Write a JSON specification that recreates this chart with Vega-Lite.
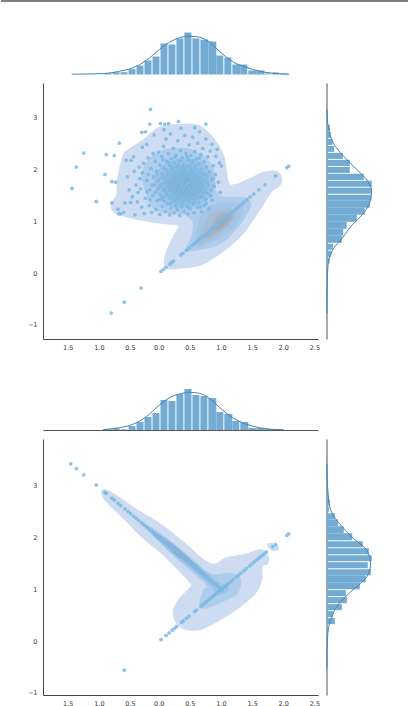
{"$schema":"https://vega.github.io/schema/vega-lite/v6.json","padding":0,"background":"white","bounds":"flush","spacing":8.5,"columns":2,
"config":{"view":{"stroke":null},"axis":{"grid":false,"ticks":false,"labelFlush":false,"labelBound":false,"domainColor":"#444","domainWidth":1,"labelFont":"DejaVu Sans","labelFontSize":6.5,"labelColor":"#333"}},
"datasets":{
"xt":[{"v":-1.46,"l":"1.5"},{"v":-0.96,"l":"1.0"},{"v":-0.46,"l":"0.5"},{"v":0,"l":"0.0"},{"v":0.5,"l":"0.5"},{"v":1,"l":"1.0"},{"v":1.5,"l":"1.5"},{"v":2,"l":"2.0"},{"v":2.5,"l":"2.5"}],
"hist1":[{"a":-0.877,"b":-0.764,"n":1.3},{"a":-0.748,"b":-0.636,"n":2.3},{"a":-0.62,"b":-0.508,"n":2.3},{"a":-0.492,"b":-0.38,"n":5.3},{"a":-0.364,"b":-0.252,"n":9},{"a":-0.236,"b":-0.123,"n":14},{"a":-0.107,"b":0.005,"n":18},{"a":0.021,"b":0.133,"n":31},{"a":0.149,"b":0.261,"n":30},{"a":0.277,"b":0.389,"n":36},{"a":0.405,"b":0.518,"n":42},{"a":0.534,"b":0.646,"n":36},{"a":0.662,"b":0.79,"n":35},{"a":0.79,"b":0.918,"n":33},{"a":0.918,"b":1.03,"n":19},{"a":1.046,"b":1.159,"n":17},{"a":1.175,"b":1.303,"n":10},{"a":1.303,"b":1.415,"n":10},{"a":1.431,"b":1.559,"n":4},{"a":1.559,"b":1.688,"n":4},{"a":1.688,"b":1.8,"n":1},{"a":1.816,"b":1.928,"n":2},{"a":1.944,"b":2.056,"n":1}],
"hist2":[{"a":-0.877,"b":-0.764,"n":0.7},{"a":-0.748,"b":-0.636,"n":1.7},{"a":-0.62,"b":-0.508,"n":0.7},{"a":-0.492,"b":-0.38,"n":4},{"a":-0.364,"b":-0.252,"n":8},{"a":-0.236,"b":-0.123,"n":13},{"a":-0.107,"b":0.005,"n":17},{"a":0.021,"b":0.133,"n":30},{"a":0.149,"b":0.261,"n":29},{"a":0.277,"b":0.389,"n":36},{"a":0.405,"b":0.518,"n":41},{"a":0.534,"b":0.646,"n":35},{"a":0.662,"b":0.774,"n":34},{"a":0.79,"b":0.918,"n":32},{"a":0.918,"b":1.03,"n":18},{"a":1.046,"b":1.175,"n":16},{"a":1.175,"b":1.287,"n":9},{"a":1.303,"b":1.431,"n":8},{"a":1.431,"b":1.559,"n":2},{"a":1.559,"b":1.688,"n":2},{"a":1.688,"b":1.8,"n":1},{"a":1.816,"b":1.928,"n":1}],
"kde1":[{"x":-1.405,"n":0.3},{"x":-0.89,"n":1},{"x":-0.636,"n":3.3},{"x":-0.422,"n":6.7},{"x":-0.208,"n":14},{"x":0.005,"n":25},{"x":0.166,"n":32.3},{"x":0.326,"n":36.7},{"x":0.486,"n":38.3},{"x":0.647,"n":37.3},{"x":0.807,"n":32.3},{"x":0.967,"n":23.3},{"x":1.181,"n":12.7},{"x":1.395,"n":7.3},{"x":1.609,"n":3.3},{"x":1.822,"n":1.3},{"x":2.09,"n":0.3}],
"kde2":[{"x":-0.903,"n":0.3},{"x":-0.636,"n":2.3},{"x":-0.422,"n":5.7},{"x":-0.208,"n":13.3},{"x":0.005,"n":25},{"x":0.165,"n":32.3},{"x":0.325,"n":36},{"x":0.486,"n":37.7},{"x":0.646,"n":36.7},{"x":0.806,"n":31.7},{"x":0.966,"n":22.7},{"x":1.18,"n":12.3},{"x":1.394,"n":6},{"x":1.607,"n":2.3},{"x":1.82,"n":0.7},{"x":2.0,"n":0.3}],
"rh1":[{"a":3.006,"b":3.14,"n":1.3},{"a":2.871,"b":3.006,"n":1.3},{"a":2.736,"b":2.853,"n":3.3},{"a":2.602,"b":2.718,"n":4.3},{"a":2.467,"b":2.584,"n":6},{"a":2.333,"b":2.449,"n":7.7},{"a":2.198,"b":2.315,"n":16.3},{"a":2.063,"b":2.18,"n":23.3},{"a":1.929,"b":2.045,"n":23.3},{"a":1.794,"b":1.911,"n":37.3},{"a":1.66,"b":1.776,"n":45.3},{"a":1.525,"b":1.642,"n":45.3},{"a":1.39,"b":1.507,"n":45},{"a":1.256,"b":1.39,"n":43.3},{"a":1.121,"b":1.256,"n":38.3},{"a":0.987,"b":1.121,"n":30.3},{"a":0.852,"b":0.987,"n":20.3},{"a":0.718,"b":0.852,"n":16.7},{"a":0.583,"b":0.718,"n":15.3},{"a":0.449,"b":0.565,"n":6.3},{"a":0.314,"b":0.431,"n":4.7},{"a":0.18,"b":0.296,"n":3},{"a":0.045,"b":0.162,"n":1.3},{"a":-0.77,"b":0.045,"n":1}],
"rh2":[{"a":2.89,"b":3.429,"n":1.3},{"a":2.755,"b":2.872,"n":2},{"a":2.62,"b":2.737,"n":3.3},{"a":2.485,"b":2.602,"n":2.3},{"a":2.35,"b":2.467,"n":8.3},{"a":2.216,"b":2.35,"n":11.3},{"a":2.081,"b":2.216,"n":17.3},{"a":1.946,"b":2.081,"n":25.7},{"a":1.811,"b":1.928,"n":36.3},{"a":1.676,"b":1.793,"n":42.3},{"a":1.541,"b":1.658,"n":45.3},{"a":1.406,"b":1.523,"n":41.3},{"a":1.271,"b":1.388,"n":44.3},{"a":1.136,"b":1.271,"n":39.3},{"a":1.002,"b":1.136,"n":33.3},{"a":0.867,"b":0.984,"n":19.3},{"a":0.732,"b":0.849,"n":20.3},{"a":0.597,"b":0.714,"n":15.3},{"a":0.462,"b":0.579,"n":6.7},{"a":0.327,"b":0.444,"n":8.3},{"a":0.192,"b":0.309,"n":1.3},{"a":-0.212,"b":0.174,"n":1},{"a":-0.559,"b":-0.347,"n":0.7}],
"rk1":[{"n":0.3,"y":3.159},{"n":1.3,"y":2.884},{"n":4,"y":2.627},{"n":9,"y":2.435},{"n":19,"y":2.211},{"n":29,"y":2.018},{"n":39,"y":1.826},{"n":44,"y":1.666},{"n":45,"y":1.538},{"n":42.3,"y":1.313},{"n":35.7,"y":1.121},{"n":25.7,"y":0.929},{"n":15.7,"y":0.672},{"n":7.3,"y":0.48},{"n":3,"y":0.288},{"n":1.3,"y":0.095},{"n":0.7,"y":-0.257},{"n":0.3,"y":-0.77}],
"rk2":[{"n":0.3,"y":3.423},{"n":1.3,"y":2.909},{"n":3.3,"y":2.588},{"n":9,"y":2.363},{"n":19,"y":2.138},{"n":29,"y":1.946},{"n":39,"y":1.785},{"n":43,"y":1.625},{"n":44,"y":1.496},{"n":42.3,"y":1.303},{"n":34,"y":1.111},{"n":24,"y":0.95},{"n":15.7,"y":0.79},{"n":9,"y":0.629},{"n":4,"y":0.404},{"n":1.7,"y":0.212},{"n":0.7,"y":-0.109},{"n":0.3,"y":-0.527}],
"poly1":[
{"p":"a","x":0.326,"y":2.872},{"p":"a","x":0.593,"y":2.865},{"p":"a","x":0.753,"y":2.756},{"p":"a","x":0.94,"y":2.5},{"p":"a","x":1.047,"y":2.244},{"p":"a","x":1.084,"y":1.987},{"p":"a","x":1.127,"y":1.731},{"p":"a","x":1.234,"y":1.718},{"p":"a","x":1.448,"y":1.827},{"p":"a","x":1.661,"y":1.942},{"p":"a","x":1.875,"y":1.968},{"p":"a","x":1.966,"y":1.859},{"p":"a","x":1.955,"y":1.699},{"p":"a","x":1.795,"y":1.538},{"p":"a","x":1.608,"y":1.186},{"p":"a","x":1.341,"y":0.737},{"p":"a","x":1.074,"y":0.449},{"p":"a","x":0.7,"y":0.16},{"p":"a","x":0.326,"y":0.083},{"p":"a","x":0.112,"y":0.096},{"p":"a","x":0.085,"y":0.321},{"p":"a","x":0.219,"y":0.705},{"p":"a","x":0.31,"y":0.897},{"p":"a","x":0.166,"y":0.929},{"p":"a","x":-0.208,"y":0.994},{"p":"a","x":-0.529,"y":1.077},{"p":"a","x":-0.743,"y":1.186},{"p":"a","x":-0.769,"y":1.346},{"p":"a","x":-0.689,"y":1.506},{"p":"a","x":-0.678,"y":1.795},{"p":"a","x":-0.582,"y":2.276},{"p":"a","x":-0.475,"y":2.404},{"p":"a","x":-0.235,"y":2.596},{"p":"a","x":-0.048,"y":2.788},{"p":"a","x":0.112,"y":2.853},
{"p":"b","x":0.059,"y":2.372},{"p":"b","x":0.433,"y":2.404},{"p":"b","x":0.7,"y":2.276},{"p":"b","x":0.86,"y":2.051},{"p":"b","x":0.903,"y":1.795},{"p":"b","x":0.913,"y":1.603},{"p":"b","x":1.02,"y":1.474},{"p":"b","x":1.368,"y":1.462},{"p":"b","x":1.474,"y":1.346},{"p":"b","x":1.421,"y":1.154},{"p":"b","x":1.234,"y":0.833},{"p":"b","x":0.967,"y":0.545},{"p":"b","x":0.566,"y":0.429},{"p":"b","x":0.422,"y":0.449},{"p":"b","x":0.513,"y":0.705},{"p":"b","x":0.54,"y":0.962},{"p":"b","x":0.406,"y":1.122},{"p":"b","x":0.166,"y":1.154},{"p":"b","x":-0.101,"y":1.25},{"p":"b","x":-0.235,"y":1.603},{"p":"b","x":-0.288,"y":1.891},{"p":"b","x":-0.182,"y":2.179},
{"p":"c","x":0.406,"y":2.212},{"p":"c","x":0.753,"y":2.083},{"p":"c","x":0.887,"y":1.731},{"p":"c","x":0.753,"y":1.378},{"p":"c","x":0.406,"y":1.25},{"p":"c","x":0.059,"y":1.378},{"p":"c","x":-0.075,"y":1.731},{"p":"c","x":0.059,"y":2.083},
{"p":"c2","x":0.673,"y":1.122},{"p":"c2","x":0.913,"y":1.346},{"p":"c2","x":1.314,"y":1.333},{"p":"c2","x":1.351,"y":1.218},{"p":"c2","x":1.261,"y":0.962},{"p":"c2","x":1.02,"y":0.705},{"p":"c2","x":0.646,"y":0.513},{"p":"c2","x":0.566,"y":0.545},
{"p":"d","x":0.417,"y":2.09},{"p":"d","x":0.689,"y":1.987},{"p":"d","x":0.801,"y":1.718},{"p":"d","x":0.689,"y":1.449},{"p":"d","x":0.417,"y":1.346},{"p":"d","x":0.144,"y":1.449},{"p":"d","x":0.032,"y":1.718},{"p":"d","x":0.144,"y":1.987},
{"p":"d2","x":0.753,"y":1.026},{"p":"d2","x":0.913,"y":1.205},{"p":"d2","x":1.234,"y":1.218},{"p":"d2","x":1.207,"y":1.026},{"p":"d2","x":1.02,"y":0.801},{"p":"d2","x":0.726,"y":0.577},{"p":"d2","x":0.62,"y":0.577},
{"p":"e","x":0.417,"y":1.955},{"p":"e","x":0.625,"y":1.878},{"p":"e","x":0.711,"y":1.699},{"p":"e","x":0.625,"y":1.519},{"p":"e","x":0.417,"y":1.442},{"p":"e","x":0.208,"y":1.519},{"p":"e","x":0.123,"y":1.699},{"p":"e","x":0.208,"y":1.878},
{"p":"e2","x":0.833,"y":0.929},{"p":"e2","x":0.967,"y":1.141},{"p":"e2","x":1.181,"y":1.141},{"p":"e2","x":1.127,"y":0.962},{"p":"e2","x":0.967,"y":0.801},{"p":"e2","x":0.753,"y":0.673},
{"p":"f","x":0.406,"y":1.833},{"p":"f","x":0.54,"y":1.788},{"p":"f","x":0.593,"y":1.679},{"p":"f","x":0.54,"y":1.571},{"p":"f","x":0.406,"y":1.526},{"p":"f","x":0.272,"y":1.571},{"p":"f","x":0.219,"y":1.679},{"p":"f","x":0.272,"y":1.788},
{"p":"f2","x":0.913,"y":0.962},{"p":"f2","x":1.047,"y":1.09},{"p":"f2","x":1.127,"y":1.09},{"p":"f2","x":1.047,"y":0.929},{"p":"f2","x":0.913,"y":0.846}],
"poly2":[
{"p":"a","x":-0.913,"y":2.922},{"p":"a","x":-0.823,"y":2.909},{"p":"a","x":-0.636,"y":2.781},{"p":"a","x":-0.369,"y":2.556},{"p":"a","x":-0.101,"y":2.364},{"p":"a","x":0.166,"y":2.139},{"p":"a","x":0.433,"y":1.882},{"p":"a","x":0.7,"y":1.593},{"p":"a","x":0.887,"y":1.496},{"p":"a","x":1.074,"y":1.612},{"p":"a","x":1.341,"y":1.676},{"p":"a","x":1.474,"y":1.721},{"p":"a","x":1.608,"y":1.773},{"p":"a","x":1.715,"y":1.721},{"p":"a","x":1.768,"y":1.593},{"p":"a","x":1.741,"y":1.484},{"p":"a","x":1.661,"y":1.432},{"p":"a","x":1.651,"y":1.175},{"p":"a","x":1.554,"y":0.918},{"p":"a","x":1.341,"y":0.694},{"p":"a","x":1.074,"y":0.469},{"p":"a","x":0.7,"y":0.231},{"p":"a","x":0.433,"y":0.212},{"p":"a","x":0.272,"y":0.34},{"p":"a","x":0.219,"y":0.565},{"p":"a","x":0.299,"y":0.79},{"p":"a","x":0.497,"y":1.047},{"p":"a","x":0.486,"y":1.124},{"p":"a","x":0.326,"y":1.336},{"p":"a","x":0.059,"y":1.657},{"p":"a","x":-0.262,"y":1.978},{"p":"a","x":-0.582,"y":2.364},{"p":"a","x":-0.849,"y":2.685},{"p":"a","x":-0.929,"y":2.845},
{"p":"a2","x":1.741,"y":1.882},{"p":"a2","x":1.848,"y":1.895},{"p":"a2","x":1.918,"y":1.818},{"p":"a2","x":1.902,"y":1.753},{"p":"a2","x":1.822,"y":1.741},{"p":"a2","x":1.747,"y":1.818},
{"p":"b","x":-0.315,"y":2.319},{"p":"b","x":-0.048,"y":2.139},{"p":"b","x":0.272,"y":1.85},{"p":"b","x":0.593,"y":1.529},{"p":"b","x":0.833,"y":1.304},{"p":"b","x":1.127,"y":1.317},{"p":"b","x":1.314,"y":1.207},{"p":"b","x":1.261,"y":0.918},{"p":"b","x":1.074,"y":0.79},{"p":"b","x":0.753,"y":0.629},{"p":"b","x":0.646,"y":0.694},{"p":"b","x":0.7,"y":0.983},{"p":"b","x":0.753,"y":1.079},{"p":"b","x":0.486,"y":1.368},{"p":"b","x":0.166,"y":1.721},{"p":"b","x":-0.155,"y":2.107},
{"p":"c","x":-0.128,"y":2.139},{"p":"c","x":0.166,"y":1.914},{"p":"c","x":0.486,"y":1.593},{"p":"c","x":0.753,"y":1.336},{"p":"c","x":0.94,"y":1.143},{"p":"c","x":1.111,"y":1.047},{"p":"c","x":1.074,"y":0.931},{"p":"c","x":0.913,"y":0.886},{"p":"c","x":0.833,"y":1.047},{"p":"c","x":0.54,"y":1.368},{"p":"c","x":0.166,"y":1.721},
{"p":"d","x":-0.021,"y":2.074},{"p":"d","x":0.219,"y":1.882},{"p":"d","x":0.54,"y":1.529},{"p":"d","x":0.807,"y":1.24},{"p":"d","x":0.913,"y":1.111},{"p":"d","x":0.833,"y":1.098},{"p":"d","x":0.54,"y":1.4},{"p":"d","x":0.192,"y":1.753},{"p":"d","x":-0.101,"y":2.042},
{"p":"e","x":0.085,"y":1.946},{"p":"e","x":0.272,"y":1.818},{"p":"e","x":0.486,"y":1.593},{"p":"e","x":0.7,"y":1.336},{"p":"e","x":0.62,"y":1.336},{"p":"e","x":0.379,"y":1.593},{"p":"e","x":0.112,"y":1.85},
{"p":"f","x":0.219,"y":1.818},{"p":"f","x":0.433,"y":1.593},{"p":"f","x":0.54,"y":1.464},{"p":"f","x":0.433,"y":1.529},{"p":"f","x":0.219,"y":1.721}],
"pts1":[{"x":-1.4,"y":1.63},{"x":-1.33,"y":2.04},{"x":-1.21,"y":2.31},{"x":-1.01,"y":1.38},{"x":-0.87,"y":1.9},{"x":-0.85,"y":2.28},{"x":-0.72,"y":2.26},{"x":-0.64,"y":2.5},{"x":-0.76,"y":1.76},{"x":-0.7,"y":1.75},{"x":-0.76,"y":1.35},{"x":-0.14,"y":3.15},{"x":-0.15,"y":2.87},{"x":-0.28,"y":2.71},{"x":-0.22,"y":2.72},{"x":0.02,"y":2.88},{"x":0.09,"y":2.87},{"x":0.15,"y":2.88},{"x":0.31,"y":2.92},{"x":0.75,"y":2.87},{"x":0.57,"y":2.8},{"x":0.35,"y":2.79},{"x":0.08,"y":2.76},{"x":-0.08,"y":2.66},{"x":-0.27,"y":2.42},{"x":-0.2,"y":2.48},{"x":-0.53,"y":2.17},{"x":-0.45,"y":2.17},{"x":-0.41,"y":2.24},{"x":-0.66,"y":1.23},{"x":-0.62,"y":1.14},{"x":-0.57,"y":1.17},{"x":-0.65,"y":1.14},{"x":-0.55,"y":1.35},{"x":-0.46,"y":1.36},{"x":-0.39,"y":1.12},{"x":-0.24,"y":1.15},{"x":-0.51,"y":1.85},{"x":-0.4,"y":1.96},{"x":-0.32,"y":2.04},{"x":-0.48,"y":1.6},{"x":-0.37,"y":1.7},{"x":-0.43,"y":1.47},{"x":-0.34,"y":1.55},{"x":-0.31,"y":1.82},{"x":-0.28,"y":1.27},{"x":-0.35,"y":1.37},{"x":-0.3,"y":1.62},{"x":-0.27,"y":1.93},{"x":-0.25,"y":2.11},{"x":-0.22,"y":1.44},{"x":-0.2,"y":1.78},{"x":-0.18,"y":2.22},{"x":-0.16,"y":1.3},{"x":-0.15,"y":1.6},{"x":-0.13,"y":2.01},{"x":-0.12,"y":1.17},{"x":-0.1,"y":2.3},{"x":-0.1,"y":1.49},{"x":-0.09,"y":1.85},{"x":-0.08,"y":1.7},{"x":-0.06,"y":2.15},{"x":-0.05,"y":1.22},{"x":-0.04,"y":1.96},{"x":-0.03,"y":1.4},{"x":-0.02,"y":1.62},{"x":-0.01,"y":2.33},{"x":0,"y":1.8},{"x":0.01,"y":1.13},{"x":0.01,"y":2.08},{"x":0.02,"y":1.51},{"x":0.03,"y":1.71},{"x":0.04,"y":2.24},{"x":0.05,"y":1.28},{"x":0.05,"y":1.91},{"x":0.06,"y":1.59},{"x":0.07,"y":2.44},{"x":0.08,"y":1.39},{"x":0.08,"y":2.02},{"x":0.09,"y":1.74},{"x":0.1,"y":1.18},{"x":0.1,"y":1.85},{"x":0.11,"y":2.58},{"x":0.12,"y":1.54},{"x":0.12,"y":2.15},{"x":0.13,"y":1.33},{"x":0.14,"y":1.68},{"x":0.14,"y":1.97},{"x":0.15,"y":2.3},{"x":0.16,"y":1.45},{"x":0.16,"y":1.79},{"x":0.17,"y":1.12},{"x":0.17,"y":2.07},{"x":0.18,"y":1.6},{"x":0.18,"y":2.68},{"x":0.19,"y":1.26},{"x":0.19,"y":1.89},{"x":0.2,"y":1.72},{"x":0.2,"y":2.2},{"x":0.21,"y":1.5},{"x":0.21,"y":2.0},{"x":0.22,"y":1.38},{"x":0.22,"y":1.83},{"x":0.23,"y":2.4},{"x":0.23,"y":1.64},{"x":0.24,"y":1.16},{"x":0.24,"y":2.12},{"x":0.25,"y":1.56},{"x":0.25,"y":1.93},{"x":0.26,"y":1.31},{"x":0.26,"y":1.76},{"x":0.27,"y":2.27},{"x":0.27,"y":1.44},{"x":0.28,"y":2.05},{"x":0.28,"y":1.67},{"x":0.29,"y":1.22},{"x":0.29,"y":1.87},{"x":0.3,"y":2.55},{"x":0.3,"y":1.53},{"x":0.31,"y":1.97},{"x":0.31,"y":1.35},{"x":0.32,"y":1.73},{"x":0.32,"y":2.16},{"x":0.33,"y":1.6},{"x":0.33,"y":1.11},{"x":0.34,"y":1.82},{"x":0.34,"y":2.36},{"x":0.35,"y":1.47},{"x":0.35,"y":2.02},{"x":0.36,"y":1.27},{"x":0.36,"y":1.69},{"x":0.37,"y":1.91},{"x":0.37,"y":2.22},{"x":0.38,"y":1.55},{"x":0.38,"y":1.38},{"x":0.39,"y":1.78},{"x":0.39,"y":2.1},{"x":0.4,"y":1.19},{"x":0.4,"y":1.62},{"x":0.41,"y":1.99},{"x":0.41,"y":2.65},{"x":0.42,"y":1.43},{"x":0.42,"y":1.85},{"x":0.43,"y":2.3},{"x":0.43,"y":1.7},{"x":0.44,"y":1.3},{"x":0.44,"y":2.05},{"x":0.45,"y":1.52},{"x":0.45,"y":1.93},{"x":0.46,"y":1.14},{"x":0.46,"y":1.76},{"x":0.47,"y":2.18},{"x":0.47,"y":1.6},{"x":0.48,"y":1.37},{"x":0.48,"y":2.47},{"x":0.49,"y":1.84},{"x":0.49,"y":1.66},{"x":0.5,"y":2.0},{"x":0.5,"y":1.24},{"x":0.51,"y":1.46},{"x":0.51,"y":2.26},{"x":0.52,"y":1.74},{"x":0.52,"y":1.57},{"x":0.53,"y":2.12},{"x":0.53,"y":1.9},{"x":0.54,"y":1.33},{"x":0.54,"y":2.62},{"x":0.55,"y":1.64},{"x":0.55,"y":1.97},{"x":0.56,"y":1.16},{"x":0.56,"y":1.8},{"x":0.57,"y":2.34},{"x":0.57,"y":1.5},{"x":0.58,"y":2.07},{"x":0.58,"y":1.41},{"x":0.59,"y":1.71},{"x":0.6,"y":1.88},{"x":0.6,"y":2.2},{"x":0.61,"y":1.27},{"x":0.61,"y":1.58},{"x":0.62,"y":2.5},{"x":0.62,"y":1.95},{"x":0.63,"y":1.77},{"x":0.64,"y":1.36},{"x":0.64,"y":2.1},{"x":0.65,"y":1.64},{"x":0.65,"y":2.72},{"x":0.66,"y":1.85},{"x":0.67,"y":1.47},{"x":0.67,"y":2.28},{"x":0.68,"y":1.18},{"x":0.68,"y":2.0},{"x":0.69,"y":1.7},{"x":0.7,"y":1.55},{"x":0.7,"y":2.4},{"x":0.71,"y":1.91},{"x":0.72,"y":1.3},{"x":0.72,"y":2.14},{"x":0.73,"y":1.79},{"x":0.74,"y":1.62},{"x":0.75,"y":2.58},{"x":0.75,"y":1.42},{"x":0.76,"y":2.04},{"x":0.77,"y":1.86},{"x":0.78,"y":1.53},{"x":0.78,"y":2.24},{"x":0.79,"y":1.7},{"x":0.8,"y":1.24},{"x":0.81,"y":1.95},{"x":0.82,"y":2.35},{"x":0.83,"y":1.6},{"x":0.84,"y":1.8},{"x":0.85,"y":2.48},{"x":0.85,"y":1.4},{"x":0.87,"y":2.07},{"x":0.88,"y":1.67},{"x":0.9,"y":1.9},{"x":0.91,"y":2.25},{"x":0.93,"y":2.38},{"x":0.95,"y":1.75},{"x":0.97,"y":2.12},{"x":0.98,"y":1.55},{"x":1.0,"y":2.06},
{"x":0.013,"y":1.655},{"x":0.047,"y":1.842},{"x":0.071,"y":1.465},{"x":0.096,"y":1.618},{"x":0.118,"y":1.795},{"x":0.133,"y":1.503},{"x":0.152,"y":1.905},{"x":0.167,"y":1.645},{"x":0.183,"y":1.432},{"x":0.197,"y":1.812},{"x":0.214,"y":1.572},{"x":0.226,"y":1.958},{"x":0.238,"y":1.705},{"x":0.251,"y":1.403},{"x":0.263,"y":1.625},{"x":0.277,"y":1.838},{"x":0.284,"y":1.515},{"x":0.296,"y":1.752},{"x":0.308,"y":1.432},{"x":0.317,"y":1.918},{"x":0.326,"y":1.583},{"x":0.338,"y":1.766},{"x":0.346,"y":1.648},{"x":0.357,"y":1.862},{"x":0.365,"y":1.508},{"x":0.374,"y":1.725},{"x":0.386,"y":1.958},{"x":0.392,"y":1.604},{"x":0.404,"y":1.823},{"x":0.413,"y":1.465},{"x":0.422,"y":1.672},{"x":0.434,"y":1.892},{"x":0.441,"y":1.556},{"x":0.453,"y":1.741},{"x":0.462,"y":1.408},{"x":0.473,"y":1.865},{"x":0.484,"y":1.632},{"x":0.496,"y":1.524},{"x":0.505,"y":1.782},{"x":0.516,"y":1.938},{"x":0.524,"y":1.665},{"x":0.537,"y":1.441},{"x":0.546,"y":1.846},{"x":0.558,"y":1.592},{"x":0.567,"y":1.713},{"x":0.579,"y":1.895},{"x":0.588,"y":1.522},{"x":0.597,"y":1.789},{"x":0.609,"y":1.655},{"x":0.618,"y":1.452},{"x":0.627,"y":1.863},{"x":0.638,"y":1.584},{"x":0.649,"y":1.742},{"x":0.661,"y":1.935},{"x":0.673,"y":1.625},{"x":0.684,"y":1.801},{"x":0.702,"y":1.463},{"x":0.716,"y":1.688},{"x":0.733,"y":1.905},{"x":0.752,"y":1.562},{"x":0.771,"y":1.744},{"x":-0.024,"y":1.774},{"x":-0.062,"y":1.552},{"x":-0.112,"y":1.693},{"x":-0.035,"y":1.895},{"x":0.024,"y":1.423},{"x":0.109,"y":1.992},{"x":0.206,"y":2.046},{"x":0.301,"y":2.083},{"x":0.398,"y":2.031},{"x":0.491,"y":2.075},{"x":0.586,"y":2.019},{"x":0.174,"y":1.336},{"x":0.272,"y":1.286},{"x":0.369,"y":1.322},{"x":0.467,"y":1.271},{"x":0.564,"y":1.349},{"x":0.658,"y":1.268},{"x":0.756,"y":1.339},{"x":0.827,"y":1.486},{"x":0.869,"y":1.825},{"x":-0.175,"y":1.905},{"x":-0.147,"y":1.415},{"x":-0.196,"y":1.563},{"x":0.062,"y":2.182},{"x":0.157,"y":2.129},{"x":0.256,"y":2.235},{"x":0.351,"y":2.163},{"x":0.447,"y":2.244},{"x":0.548,"y":2.168},{"x":0.643,"y":2.213},
{"x":-0.29,"y":-0.29},{"x":-0.56,"y":-0.56},{"x":-0.77,"y":-0.77},{"x":0.03,"y":0.03},{"x":0.07,"y":0.07},{"x":0.11,"y":0.11},{"x":0.17,"y":0.17},{"x":0.2,"y":0.2},{"x":0.23,"y":0.23},{"x":0.35,"y":0.35},{"x":0.38,"y":0.38},{"x":0.44,"y":0.44},{"x":0.48,"y":0.48},{"x":0.53,"y":0.53},{"x":0.56,"y":0.56},{"x":0.6,"y":0.6},{"x":0.63,"y":0.63},{"x":0.66,"y":0.66},{"x":0.69,"y":0.69},{"x":0.72,"y":0.72},{"x":0.75,"y":0.75},{"x":0.78,"y":0.78},{"x":0.81,"y":0.81},{"x":0.84,"y":0.84},{"x":0.87,"y":0.87},{"x":0.9,"y":0.9},{"x":0.93,"y":0.93},{"x":0.96,"y":0.96},{"x":0.99,"y":0.99},{"x":1.02,"y":1.02},{"x":1.05,"y":1.05},{"x":1.08,"y":1.08},{"x":1.11,"y":1.11},{"x":1.14,"y":1.14},{"x":1.17,"y":1.17},{"x":1.2,"y":1.2},{"x":1.24,"y":1.24},{"x":1.28,"y":1.28},{"x":1.32,"y":1.32},{"x":1.36,"y":1.36},{"x":1.41,"y":1.41},{"x":1.46,"y":1.46},{"x":1.52,"y":1.52},{"x":1.6,"y":1.6},{"x":1.7,"y":1.7},{"x":1.87,"y":1.87},{"x":2.05,"y":2.03},{"x":2.08,"y":2.06}],
"pts2":[{"x":-1.42,"y":3.42},{"x":-1.33,"y":3.33},{"x":-1.21,"y":3.21},{"x":-1.01,"y":3.01},{"x":-0.87,"y":2.87},{"x":-0.85,"y":2.85},{"x":-0.76,"y":2.76},{"x":-0.72,"y":2.72},{"x":-0.66,"y":2.66},{"x":-0.62,"y":2.62},{"x":-0.55,"y":2.55},{"x":-0.5,"y":2.5},{"x":-0.46,"y":2.46},{"x":-0.41,"y":2.41},{"x":-0.37,"y":2.37},{"x":-0.33,"y":2.33},{"x":-0.28,"y":2.28},{"x":-0.24,"y":2.24},{"x":-0.2,"y":2.2},{"x":-0.16,"y":2.16},{"x":-0.13,"y":2.13},{"x":-0.1,"y":2.1},{"x":-0.07,"y":2.07},{"x":-0.04,"y":2.04},{"x":-0.02,"y":2.02},{"x":0.01,"y":1.99},{"x":0.03,"y":1.97},{"x":0.06,"y":1.94},{"x":0.08,"y":1.92},{"x":0.1,"y":1.9},{"x":0.12,"y":1.88},{"x":0.14,"y":1.86},{"x":0.16,"y":1.84},{"x":0.18,"y":1.82},{"x":0.2,"y":1.8},{"x":0.22,"y":1.78},{"x":0.24,"y":1.76},{"x":0.26,"y":1.74},{"x":0.28,"y":1.72},{"x":0.3,"y":1.7},{"x":0.32,"y":1.68},{"x":0.34,"y":1.66},{"x":0.36,"y":1.64},{"x":0.38,"y":1.62},{"x":0.4,"y":1.6},{"x":0.42,"y":1.58},{"x":0.44,"y":1.56},{"x":0.46,"y":1.54},{"x":0.48,"y":1.52},{"x":0.5,"y":1.5},{"x":0.52,"y":1.48},{"x":0.54,"y":1.46},{"x":0.56,"y":1.44},{"x":0.58,"y":1.42},{"x":0.6,"y":1.4},{"x":0.62,"y":1.38},{"x":0.64,"y":1.36},{"x":0.66,"y":1.34},{"x":0.68,"y":1.32},{"x":0.71,"y":1.29},{"x":0.74,"y":1.26},{"x":0.77,"y":1.23},{"x":0.8,"y":1.2},{"x":0.83,"y":1.17},{"x":0.86,"y":1.14},{"x":0.89,"y":1.11},{"x":0.92,"y":1.08},{"x":0.95,"y":1.05},{"x":0.98,"y":1.02},{"x":1.01,"y":0.99},{"x":-0.56,"y":-0.56},{"x":0.03,"y":0.03},{"x":0.11,"y":0.11},{"x":0.16,"y":0.16},{"x":0.21,"y":0.21},{"x":0.25,"y":0.25},{"x":0.28,"y":0.28},{"x":0.36,"y":0.36},{"x":0.39,"y":0.39},{"x":0.44,"y":0.44},{"x":0.48,"y":0.48},{"x":0.57,"y":0.57},{"x":0.6,"y":0.6},{"x":0.67,"y":0.67},{"x":0.7,"y":0.7},{"x":0.73,"y":0.73},{"x":0.76,"y":0.76},{"x":0.79,"y":0.79},{"x":0.82,"y":0.82},{"x":0.85,"y":0.85},{"x":0.88,"y":0.88},{"x":0.91,"y":0.91},{"x":0.94,"y":0.94},{"x":0.97,"y":0.97},{"x":1.0,"y":1.0},{"x":1.03,"y":1.03},{"x":1.06,"y":1.06},{"x":1.09,"y":1.09},{"x":1.12,"y":1.12},{"x":1.15,"y":1.15},{"x":1.19,"y":1.19},{"x":1.24,"y":1.24},{"x":1.27,"y":1.27},{"x":1.31,"y":1.31},{"x":1.36,"y":1.36},{"x":1.4,"y":1.4},{"x":1.45,"y":1.45},{"x":1.49,"y":1.49},{"x":1.53,"y":1.53},{"x":1.57,"y":1.57},{"x":1.6,"y":1.6},{"x":1.63,"y":1.63},{"x":1.66,"y":1.66},{"x":1.69,"y":1.69},{"x":1.72,"y":1.72},{"x":1.82,"y":1.82},{"x":1.87,"y":1.86},{"x":2.05,"y":2.04},{"x":2.08,"y":2.07}]
},
"concat":[
{"width":275,"height":19.2,"data":{"values":[{"a":-0.1527,"b":1.33,"y":1}]},"mark":{"type":"rule","color":"#555","strokeWidth":1.5},"encoding":{"x":{"field":"a","type":"quantitative","scale":{"domain":[0,1],"nice":false,"zero":false},"axis":null},"x2":{"field":"b"},"y":{"field":"y","type":"quantitative","scale":{"domain":[0,1],"nice":false},"axis":null}}},
{"width":50,"height":19.2,"data":{"values":[{"a":0}]},"mark":{"type":"rule","opacity":0},"encoding":{}},
{"width":275,"height":45,"layer":[
{"data":{"name":"hist1"},"mark":{"type":"rect","color":"#73abd3"},"encoding":{"x":{"field":"a","type":"quantitative","scale":{"domain":[-1.865,2.55],"nice":false,"zero":false},"axis":null},"x2":{"field":"b"},"y":{"field":"n","type":"quantitative","scale":{"domain":[0,45],"nice":false},"axis":null},"y2":{"datum":0}}},
{"data":{"name":"kde1"},"mark":{"type":"line","color":"#4682b4","strokeWidth":1,"interpolate":"monotone"},"encoding":{"x":{"field":"x","type":"quantitative"},"y":{"field":"n","type":"quantitative"}}}]},
{"width":50,"height":45,"data":{"values":[{"a":0}]},"mark":{"type":"rule","opacity":0},"encoding":{}},
{"width":275,"height":256,"layer":[
{"data":{"name":"poly1"},"mark":{"type":"line","interpolate":"cardinal-closed","strokeWidth":0},"encoding":{"x":{"field":"x","type":"quantitative","scale":{"domain":[-1.865,2.55],"nice":false,"zero":false},"axis":{"title":null,"labels":false}},"y":{"field":"y","type":"quantitative","scale":{"domain":[-1.27,3.66],"nice":false,"zero":false},"axis":{"title":null,"values":[-1,0,1,2,3],"format":"d","labelPadding":6}},"order":{"value":null},"fill":{"field":"p","type":"nominal","legend":null,"scale":{"domain":["a","b","c","c2","d","d2","e","e2","f","f2"],"range":["#cddcf1","#aecdec","#9fc3e6","#a4c5e6","#96bada","#a6bfd9","#93aec8","#a3b3c5","#94a4b3","#9fa8b1"]}}}},
{"data":{"name":"pts1"},"mark":{"type":"point","filled":true,"size":14,"color":"#7ab8e4","opacity":0.85,"strokeWidth":0},"encoding":{"x":{"field":"x","type":"quantitative"},"y":{"field":"y","type":"quantitative"}}},
{"data":{"name":"xt"},"mark":{"type":"text","dy":9,"font":"DejaVu Sans","fontSize":6.5,"color":"#333","baseline":"middle","align":"center"},"encoding":{"x":{"field":"v","type":"quantitative"},"y":{"datum":-1.27},"text":{"field":"l","type":"nominal"}}}]},
{"width":50,"height":256,"layer":[
{"data":{"name":"rh1"},"mark":{"type":"rect","color":"#73abd3"},"encoding":{"y":{"field":"a","type":"quantitative","scale":{"domain":[-1.27,3.66],"nice":false,"zero":false},"axis":{"title":null,"labels":false,"domainColor":"#555"}},"y2":{"field":"b"},"x":{"field":"n","type":"quantitative","scale":{"domain":[0,50],"nice":false},"axis":null},"x2":{"datum":0}}},
{"data":{"name":"rk1"},"mark":{"type":"line","color":"#4682b4","strokeWidth":1,"interpolate":"cardinal"},"encoding":{"x":{"field":"n","type":"quantitative"},"y":{"field":"y","type":"quantitative"},"order":{"field":"y"}}}]},
{"width":275,"height":82.5,"layer":[
{"data":{"name":"hist2"},"mark":{"type":"rect","color":"#73abd3"},"encoding":{"x":{"field":"a","type":"quantitative","scale":{"domain":[-1.865,2.55],"nice":false,"zero":false},"axis":{"title":null,"labels":false,"domainColor":"#555"}},"x2":{"field":"b"},"y":{"field":"n","type":"quantitative","scale":{"domain":[0,82.5],"nice":false},"axis":null},"y2":{"datum":0}}},
{"data":{"name":"kde2"},"mark":{"type":"line","color":"#4682b4","strokeWidth":1,"interpolate":"monotone"},"encoding":{"x":{"field":"x","type":"quantitative"},"y":{"field":"n","type":"quantitative"}}}]},
{"width":50,"height":82.5,"data":{"values":[{"a":0}]},"mark":{"type":"rule","opacity":0},"encoding":{}},
{"width":275,"height":256,"layer":[
{"data":{"name":"poly2"},"mark":{"type":"line","interpolate":"cardinal-closed","strokeWidth":0},"encoding":{"x":{"field":"x","type":"quantitative","scale":{"domain":[-1.865,2.55],"nice":false,"zero":false},"axis":{"title":null,"labels":false}},"y":{"field":"y","type":"quantitative","scale":{"domain":[-1.04,3.9],"nice":false,"zero":false},"axis":{"title":null,"values":[-1,0,1,2,3],"format":"d","labelPadding":6}},"order":{"value":null},"fill":{"field":"p","type":"nominal","legend":null,"scale":{"domain":["a","a2","b","c","d","e","f"],"range":["#cddcf1","#cddcf1","#aecdec","#a4c5e6","#a6bfd9","#a3b3c5","#9fa8b1"]}}}},
{"data":{"name":"pts2"},"mark":{"type":"point","filled":true,"size":14,"color":"#7ab8e4","opacity":0.85,"strokeWidth":0},"encoding":{"x":{"field":"x","type":"quantitative"},"y":{"field":"y","type":"quantitative"}}},
{"data":{"name":"xt"},"mark":{"type":"text","dy":9,"font":"DejaVu Sans","fontSize":6.5,"color":"#333","baseline":"middle","align":"center"},"encoding":{"x":{"field":"v","type":"quantitative"},"y":{"datum":-1.04},"text":{"field":"l","type":"nominal"}}}]},
{"width":50,"height":256,"layer":[
{"data":{"name":"rh2"},"mark":{"type":"rect","color":"#73abd3"},"encoding":{"y":{"field":"a","type":"quantitative","scale":{"domain":[-1.04,3.9],"nice":false,"zero":false},"axis":{"title":null,"labels":false,"domainColor":"#555"}},"y2":{"field":"b"},"x":{"field":"n","type":"quantitative","scale":{"domain":[0,50],"nice":false},"axis":null},"x2":{"datum":0}}},
{"data":{"name":"rk2"},"mark":{"type":"line","color":"#4682b4","strokeWidth":1,"interpolate":"cardinal"},"encoding":{"x":{"field":"n","type":"quantitative"},"y":{"field":"y","type":"quantitative"},"order":{"field":"y"}}}]}
]}
